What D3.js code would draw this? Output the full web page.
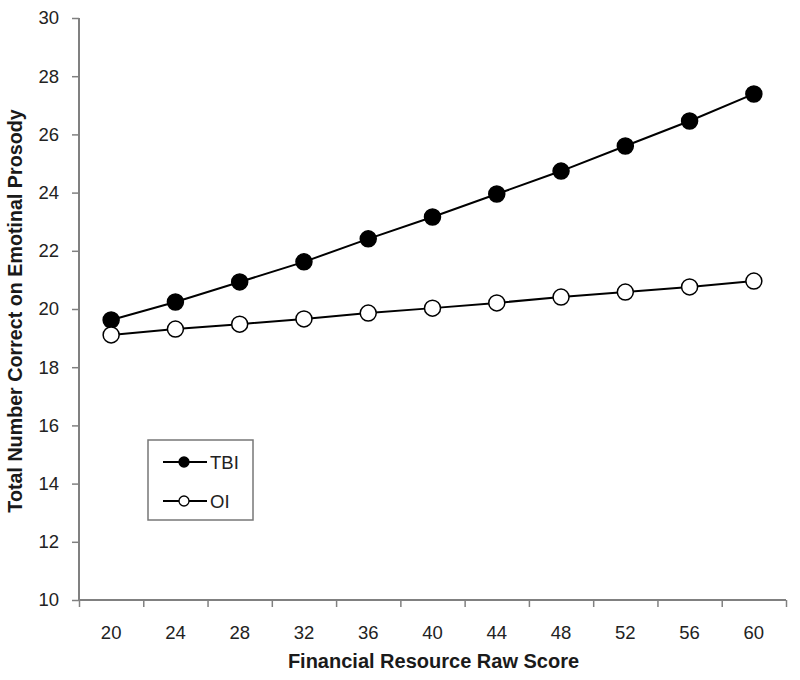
<!DOCTYPE html>
<html>
<head>
<meta charset="utf-8">
<script src="https://cdn.jsdelivr.net/npm/d3@7"></script>
<style>
  body { margin: 0; background: #fff; }
  svg { display: block; font-family: 'Liberation Sans', Arial, sans-serif; }
</style>
</head>
<body>
<div id="app"></div>
<script>
// chart data
const scores = [20, 24, 28, 32, 36, 40, 44, 48, 52, 56, 60]
const tbi = [19.62, 20.24, 20.93, 21.62, 22.41, 23.16, 23.95, 24.74, 25.6, 26.46, 27.39]
const oi = [19.11, 19.31, 19.48, 19.66, 19.86, 20.03, 20.21, 20.41, 20.58, 20.76, 20.96]
const yTicks = [10, 12, 14, 16, 18, 20, 22, 24, 26, 28, 30]

const width = 800
const height = 680
const margin = { top: 18, right: 14, bottom: 80, left: 79 }
const plotW = width - margin.left - margin.right
const plotH = height - margin.top - margin.bottom
const axisColor = '#808080'

const svg = d3.select('#app').append('svg')
	.attr('width', width)
	.attr('height', height)

const g = svg.append('g')
	.attr('transform', `translate(${margin.left}, ${margin.top})`)

// x is categorical, Excel style: ticks between categories
const x = d3.scaleBand().domain(scores).range([0, plotW]).padding(0)
const xEdge = d3.scaleLinear().domain([0, scores.length]).range([0, plotW])
const y = d3.scaleLinear().domain([10, 30]).range([plotH, 0])

// y axis
const yAxis = g.append('g')
	.call(d3.axisLeft(y).tickValues(yTicks).tickSize(7).tickPadding(13))
yAxis.select('.domain').attr('stroke', axisColor).attr('stroke-width', 2)
	.attr('d', `M0,${plotH}V0`)
yAxis.selectAll('.tick line').attr('stroke', axisColor).attr('stroke-width', 1.5)
yAxis.selectAll('.tick text').attr('fill', '#222').style('font-size', '18.5px')

// x axis tick marks at category edges
const xTickAxis = g.append('g')
	.attr('transform', `translate(0, ${plotH})`)
	.call(d3.axisBottom(xEdge).tickValues(d3.range(scores.length + 1)).tickSize(7).tickFormat(''))
xTickAxis.select('.domain').attr('stroke', axisColor).attr('stroke-width', 2)
	.attr('d', `M0,0H${plotW}`)
xTickAxis.selectAll('.tick line').attr('stroke', axisColor).attr('stroke-width', 1.5)

// x axis labels at category centres
const xLabelAxis = g.append('g')
	.attr('transform', `translate(0, ${plotH})`)
	.call(d3.axisBottom(x).tickSize(0).tickPadding(26))
xLabelAxis.select('.domain').remove()
xLabelAxis.selectAll('.tick text').attr('fill', '#222').style('font-size', '18.5px')

// axis titles
g.append('text')
	.attr('x', plotW / 2 + 1)
	.attr('y', plotH + 68)
	.attr('text-anchor', 'middle')
	.attr('fill', '#1a1a1a')
	.style('font-size', '20px')
	.style('font-weight', 'bold')
	.text('Financial Resource Raw Score')

g.append('text')
	.attr('transform', 'rotate(-90)')
	.attr('x', -plotH / 2 - 2)
	.attr('y', -57)
	.attr('text-anchor', 'middle')
	.attr('fill', '#1a1a1a')
	.style('font-size', '19.7px')
	.style('font-weight', 'bold')
	.text('Total Number Correct on Emotinal Prosody')

// series
const series = [
	{ name: 'TBI', values: tbi, fill: '#000' },
	{ name: 'OI', values: oi, fill: '#fff' },
]

const line = d3.line()
	.x((d, i) => x(scores[i]) + x.bandwidth() / 2)
	.y((d) => y(d))

series.forEach((s) => {
	g.append('path')
		.datum(s.values)
		.attr('d', line)
		.attr('fill', 'none')
		.attr('stroke', '#000')
		.attr('stroke-width', 2)

	g.selectAll(null)
		.data(s.values)
		.enter()
		.append('circle')
		.attr('cx', (d, i) => x(scores[i]) + x.bandwidth() / 2)
		.attr('cy', (d) => y(d))
		.attr('r', 8)
		.attr('fill', s.fill)
		.attr('stroke', '#000')
		.attr('stroke-width', 1.5)
})

// legend
const legend = svg.append('g').attr('transform', 'translate(148, 440)')
legend.append('rect')
	.attr('width', 105)
	.attr('height', 80)
	.attr('fill', '#fff')
	.attr('stroke', '#777')
	.attr('stroke-width', 1.5)

series.forEach((s, i) => {
	const row = legend.append('g').attr('transform', `translate(0, ${22 + i * 39})`)
	row.append('line')
		.attr('x1', 15).attr('x2', 59)
		.attr('stroke', '#000').attr('stroke-width', 2)
	row.append('circle')
		.attr('cx', 36).attr('r', 5)
		.attr('fill', s.fill).attr('stroke', '#000').attr('stroke-width', 1.3)
	row.append('text')
		.attr('x', 62).attr('y', 7)
		.attr('fill', '#222')
		.style('font-size', '18.5px')
		.text(s.name)
})
</script>
</body>
</html>
